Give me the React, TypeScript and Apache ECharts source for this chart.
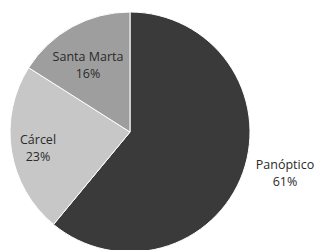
import React, { useEffect, useRef } from "react";
import * as echarts from "echarts";

const categories = ["Panóptico", "Cárcel", "Santa Marta"];
const values = [61, 23, 16];
const colors = ["#3a3a3a", "#c7c7c7", "#9e9e9e"];
const labelSpots: [number, number][] = [
  [285, 173],
  [38, 148],
  [88, 65],
];

export default function App() {
  const ref = useRef<HTMLDivElement>(null);
  useEffect(() => {
    document.body.style.margin = "0";
    const chart = echarts.init(ref.current!, null, { renderer: "svg" });
    chart.setOption({
      animation: false,
      backgroundColor: "#ffffff",
      series: [
        {
          type: "pie",
          center: [130, 132],
          radius: 120,
          startAngle: 90,
          clockwise: true,
          itemStyle: { borderColor: "#ffffff", borderWidth: 1 },
          data: categories.map((name, i) => ({
            name,
            value: values[i],
            itemStyle: { color: colors[i] },
            label: {
              position: i === 0 ? "outside" : "inside",
            },
            labelLine: { show: i === 0, length: 4, length2: 6, lineStyle: { color: "#cccccc", width: 1 } },
          })),
          label: {
            show: true,
            formatter: (p: any) => `${p.name}\n${p.value}%`,
            fontFamily: "Open Sans",
            fontSize: 12.5,
            lineHeight: 17,
            color: "#2a2a2a",
            align: "center",
            overflow: "none",
            width: 90,
          },
          labelLayout: (params: any) => {
            const [x, y] = labelSpots[params.dataIndex];
            return { x, y, align: "center", verticalAlign: "middle" };
          },
        },
      ],
    });
    return () => chart.dispose();
  }, []);
  return <div ref={ref} style={{ width: 320, height: 250 }} />;
}
